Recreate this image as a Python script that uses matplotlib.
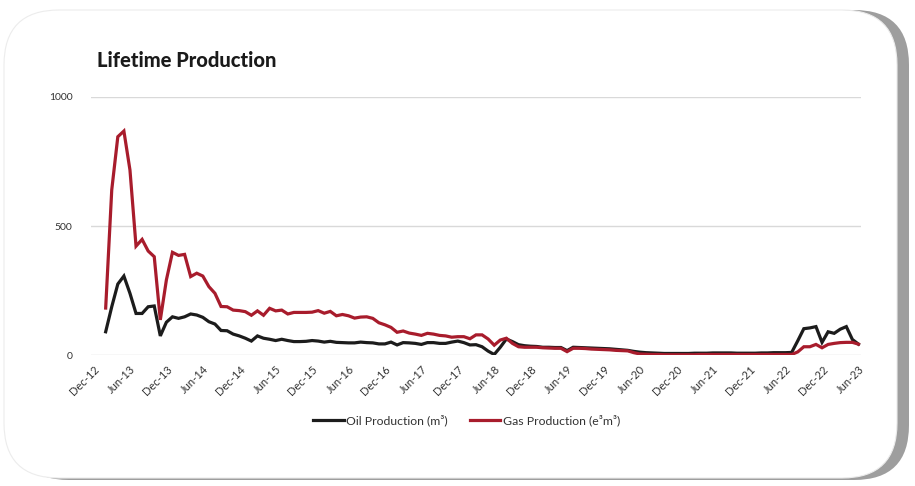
import matplotlib
matplotlib.use("Agg")
import matplotlib.pyplot as plt
from matplotlib.patches import FancyBboxPatch
import numpy as np

# monthly data, Feb-13 .. Jun-23
oil = [90, 187, 275, 306, 239, 161, 161, 187, 190, 74, 127, 148, 142, 148, 159, 155, 146, 129, 120, 95,
       94, 81, 74, 65, 54, 74, 65, 61, 56, 61, 56, 52, 52, 53, 56, 54, 50, 53, 49, 48,
       47, 47, 50, 48, 47, 43, 43, 50, 39, 48, 47, 45, 41, 48, 48, 45, 45, 50, 54, 48,
       39, 40, 32, 15, 2, 30, 62, 52, 40, 36, 34, 33, 30, 30, 29, 29, 17, 30, 29, 28,
       27, 26, 25, 24, 22, 20, 18, 14, 11, 9, 8, 7, 6, 6, 6, 6, 6, 7, 7, 7,
       8, 8, 8, 8, 7, 7, 7, 7, 8, 8, 9, 9, 9, 10, 55, 102, 105, 110, 49, 90,
       84, 100, 110, 60, 42]
gas = [182, 640, 846, 868, 717, 422, 448, 403, 381, 136, 291, 398, 386, 390, 304, 317, 306, 265, 239, 188,
       187, 174, 172, 168, 154, 171, 154, 181, 171, 174, 159, 165, 165, 165, 166, 172, 162, 169, 152, 157,
       152, 143, 147, 148, 142, 125, 117, 107, 88, 93, 85, 81, 76, 84, 81, 76, 74, 69, 71, 71,
       63, 78, 78, 62, 38, 58, 65, 45, 32, 30, 30, 30, 28, 27, 26, 26, 13, 26, 26, 25,
       23, 22, 21, 20, 18, 17, 16, 9, 4, 3, 2, 2, 1, 1, 1, 1, 1, 1, 2, 2,
       2, 2, 2, 2, 2, 2, 2, 2, 2, 2, 2, 2, 2, 2, 12, 32, 32, 41, 28, 41,
       45, 48, 49, 49, 42]

# axis starts two months before the first data point (Dec-12)
tick_labels = ["Dec-12", "Jun-13", "Dec-13", "Jun-14", "Dec-14", "Jun-15", "Dec-15", "Jun-16",
               "Dec-16", "Jun-17", "Dec-17", "Jun-18", "Dec-18", "Jun-19", "Dec-19", "Jun-20",
               "Dec-20", "Jun-21", "Dec-21", "Jun-22", "Dec-22", "Jun-23"]
y_ticks = [0, 500, 1000]

OIL_COL = "#1c1c1c"
GAS_COL = "#a81c2c"
FONT = ["Lato", "DejaVu Sans"]

fig = plt.figure(figsize=(9.15, 4.86), dpi=100)
fig.patch.set_facecolor("white")

# card with shadow
shadow = FancyBboxPatch((14 / 915, 6 / 486), 895 / 915, 470 / 486,
                        boxstyle="round,pad=0,rounding_size=0.06",
                        transform=fig.transFigure, facecolor="#9e9e9e",
                        edgecolor="none", zorder=0, mutation_aspect=915 / 486)
card = FancyBboxPatch((4 / 915, 8 / 486), 893 / 915, 468 / 486,
                      boxstyle="round,pad=0,rounding_size=0.06",
                      transform=fig.transFigure, facecolor="white",
                      edgecolor="#ececec", linewidth=0.8, zorder=0.5,
                      mutation_aspect=915 / 486)
fig.patches.extend([shadow, card])

ax = fig.add_axes([90.5 / 915, (486 - 355) / 486, 771 / 915, 258 / 486])
ax.set_zorder(2)
ax.set_facecolor("none")

x = np.arange(len(oil))
ax.plot(x, oil, color=OIL_COL, lw=2.3, label="Oil Production (m³)", solid_joinstyle="miter")
ax.plot(x, gas, color=GAS_COL, lw=2.3, label="Gas Production (e³m³)", solid_joinstyle="miter")

ax.set_xlim(-2.5, len(oil) - 0.5)
ax.set_ylim(0, 1000)
ax.set_yticks(y_ticks)
ax.set_yticklabels([str(v) for v in y_ticks], family=FONT, fontsize=7.5, color="#333333")
ax.set_xticks([i * 6 - 2 for i in range(len(tick_labels))])
ax.set_xticklabels(tick_labels, rotation=45, ha="right", va="top", rotation_mode="anchor",
                   family=FONT, fontsize=8, color="#333333")
ax.tick_params(axis="both", length=0)
ax.tick_params(axis="y", pad=13)
ax.tick_params(axis="x", pad=6)
ax.grid(axis="y", color="#d9d9d9", lw=1)
ax.set_axisbelow(True)
for s in ax.spines.values():
    s.set_visible(False)

leg = ax.legend(loc="upper center", bbox_to_anchor=(0.488, -0.19), ncol=2, frameon=False,
                prop={"family": FONT, "size": 8.8}, handlelength=2.5, handletextpad=0.2,
                columnspacing=1.8)
for t in leg.get_texts():
    t.set_color("#333333")

fig.text(97 / 915, 1 - 67 / 486, "Lifetime Production", family=["Lato", "DejaVu Sans"],
         fontweight="black", fontsize=14.5, color="#1a1a1a", va="baseline", zorder=3)

fig.savefig("out.png", dpi=100, facecolor="white")
